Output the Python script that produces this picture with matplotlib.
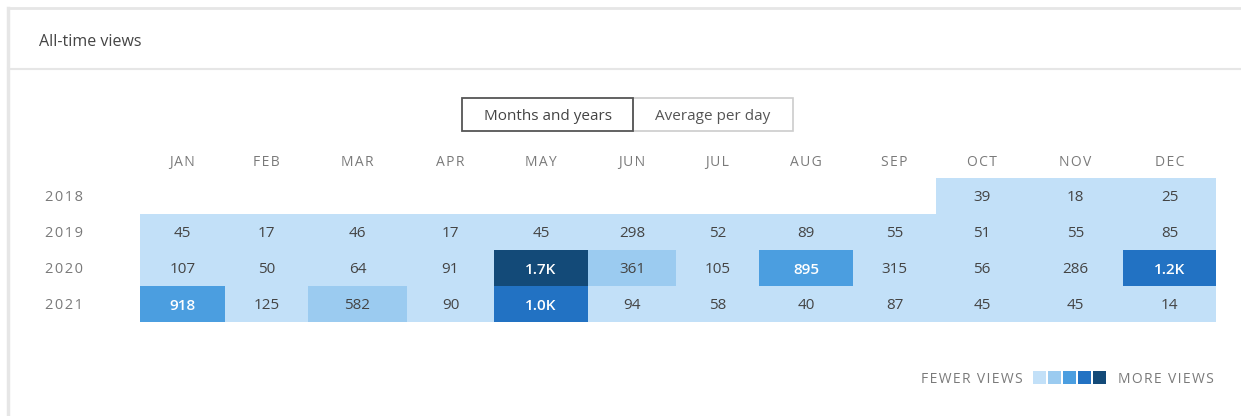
import numpy as np
import matplotlib
matplotlib.use('Agg')
import matplotlib.pyplot as plt
from matplotlib.colors import ListedColormap, BoundaryNorm
from matplotlib.patches import Rectangle

plt.rcParams['font.family'] = ['Open Sans', 'DejaVu Sans']

# data
months = ['JAN', 'FEB', 'MAR', 'APR', 'MAY', 'JUN', 'JUL', 'AUG', 'SEP', 'OCT', 'NOV', 'DEC']
years = ['2018', '2019', '2020', '2021']
views_2018 = [np.nan] * 9 + [39, 18, 25]
views_2019 = [45, 17, 46, 17, 45, 298, 52, 89, 55, 51, 55, 85]
views_2020 = [107, 50, 64, 91, 1700, 361, 105, 895, 315, 56, 286, 1200]
views_2021 = [918, 125, 582, 90, 1000, 94, 58, 40, 87, 45, 45, 14]

# colour buckets (fewer -> more views)
shades = ['#c2e0f8', '#9bcbf0', '#4b9ee0', '#2272c3', '#134a78']
bounds = [0, 330, 700, 950, 1400, 2500]
cmap = ListedColormap(shades)
norm = BoundaryNorm(bounds, cmap.N)

grid = np.ma.masked_invalid(np.array([views_2018, views_2019, views_2020, views_2021], dtype=float))


def spaced(s, sep='\u200a'):
    # poor man's letter spacing
    return sep.join(s)


# layout in pixels
W, H = 1241, 416
col_edges = np.array([140, 225, 308, 407, 494, 588, 676, 759, 853, 936, 1028, 1123, 1216])
row_edges = np.array([178, 214, 250, 286, 322])
dy = 1.5  # text baseline nudge

fig = plt.figure(figsize=(W / 100, H / 100), dpi=100)
ax = fig.add_axes([0, 0, 1, 1])
ax.set_xlim(0, W)
ax.set_ylim(H, 0)
ax.axis('off')

# card frame
ax.plot([8, 8], [8, H], color='#e6e6e6', lw=2.5)
ax.plot([8, W], [8, 8], color='#e6e6e6', lw=2)
ax.plot([8, W], [68.5, 68.5], color='#e6e6e6', lw=1.5)
ax.text(39, 40 + dy, 'All-time views', fontsize=11.5, color='#444444', va='center', ha='left')

# toggle buttons
ax.add_patch(Rectangle((633, 98), 160, 33, fill=False, edgecolor='#cccccc', lw=1.2))
ax.add_patch(Rectangle((462, 98), 171, 33, fill=False, edgecolor='#555555', lw=1.3))
ax.text(547.5, 115 + dy, 'Months and years', fontsize=11, color='#444444', ha='center', va='center')
ax.text(713, 115 + dy, 'Average per day', fontsize=11, color='#555555', ha='center', va='center')

# heatmap
ax.pcolormesh(col_edges, row_edges, grid, cmap=cmap, norm=norm, edgecolors='none')

xc = (col_edges[:-1] + col_edges[1:]) / 2
yc = (row_edges[:-1] + row_edges[1:]) / 2 + dy

for j, m in enumerate(months):
    ax.text(xc[j], 161 + dy, spaced(m), fontsize=10, color='#7a7a7a', ha='center', va='center')
for i, y in enumerate(years):
    ax.text(64, yc[i], spaced(y), fontsize=10.5, color='#7a7a7a', ha='center', va='center')

for i in range(len(years)):
    for j in range(len(months)):
        v = grid[i, j]
        if np.ma.is_masked(v):
            continue
        if v >= 1000:
            label = f'{v / 1000:.1f}K'
        else:
            label = f'{int(v)}'
        dark = v > 700
        ax.text(xc[j], yc[i], label, fontsize=11, ha='center', va='center',
                color='white' if dark else '#444444',
                fontweight='semibold' if dark else 'normal')

# legend
ax.text(1023, 378 + dy, spaced('FEWER VIEWS'), fontsize=10, color='#7a7a7a', ha='right', va='center')
for k, c in enumerate(shades):
    ax.add_patch(Rectangle((1033 + k * 15, 371), 13, 13, facecolor=c, edgecolor='none'))
ax.text(1118, 378 + dy, spaced('MORE VIEWS'), fontsize=10, color='#7a7a7a', ha='left', va='center')

fig.savefig('out.png', dpi=100, facecolor='white')
